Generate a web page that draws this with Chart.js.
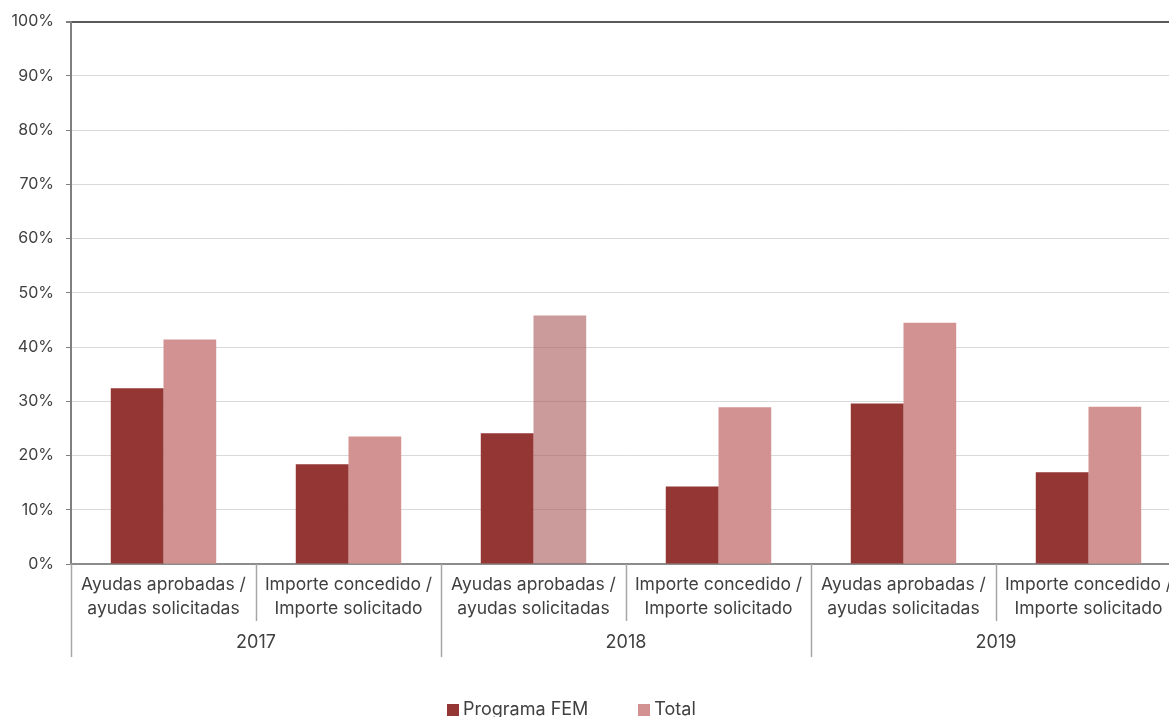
<!DOCTYPE html>
<html>
<head>
<meta charset="utf-8">
<script src="https://cdn.jsdelivr.net/npm/chart.js@4.4.1/dist/chart.umd.min.js"></script>
<style>
  html, body { margin: 0; padding: 0; background: #fff; overflow: hidden; }
  #wrap { position: relative; width: 1169px; height: 717px; overflow: hidden; }
  #chartBox { position: absolute; left: 0; top: 0; width: 1190px; height: 717px; }
  #legend { position: absolute; left: 447px; top: 698px; font-family: Inter, sans-serif; font-size: 18px; color: #404040; white-space: nowrap; }
  #legend span.item { display: inline-block; margin-right: 50px; }
  #legend span.box { display: inline-block; width: 12px; height: 12px; margin-right: 4px; vertical-align: -1px; }
</style>
</head>
<body>
<div id="wrap">
  <div id="chartBox"><canvas id="fondosChart" width="1190" height="717"></canvas></div>
  <div id="legend"></div>
</div>
<script>
// Datos
const years = ['2017', '2018', '2019'];
const metrics = [
    ['Ayudas aprobadas /', 'ayudas solicitadas'],
    ['Importe concedido /', 'Importe solicitado']
];
const categories = [metrics[0], metrics[1], metrics[0], metrics[1], metrics[0], metrics[1]];
const programaFem = [32.4, 18.4, 24.1, 14.3, 29.6, 16.9];
const total = [41.4, 23.5, 45.8, 28.9, 44.5, 29.0];
const yTicks = [0, 10, 20, 30, 40, 50, 60, 70, 80, 90, 100];

const colorFem = '#943634';
const colorTotal = '#d39292';
// la barra de 2018 "Ayudas" aparece algo translúcida en el original
const totalColors = total.map((v, i) => i === 2 ? 'rgba(168, 88, 88, 0.6)' : colorTotal);

const textColor = '#404040';
const fontFamily = 'Inter, sans-serif';

// separadores de categorías y años bajo el eje
const separators = {
    id: 'separators',
    afterDraw(chart) {
        const x = chart.scales.x;
        const ctx = chart.ctx;
        const step = x.width / categories.length;
        const y0 = chart.chartArea.bottom;
        ctx.save();
        ctx.strokeStyle = '#a6a6a6';
        ctx.lineWidth = 1.5;
        for (let i = 0; i <= categories.length; i++) {
            const px = Math.round(x.getPixelForValue(0) - step / 2 + i * step) + 0.5;
            const len = (i % 2 === 0) ? 93 : 57;
            ctx.beginPath();
            ctx.moveTo(px, y0);
            ctx.lineTo(px, y0 + len);
            ctx.stroke();
        }
        ctx.restore();
    }
};

const htmlLegend = {
    id: 'htmlLegend',
    afterUpdate(chart) {
        const el = document.getElementById('legend');
        el.innerHTML = '';
        chart.data.datasets.forEach(ds => {
            const item = document.createElement('span');
            item.className = 'item';
            const box = document.createElement('span');
            box.className = 'box';
            box.style.background = ds.legendColor;
            item.appendChild(box);
            item.appendChild(document.createTextNode(ds.label));
            el.appendChild(item);
        });
    }
};

const ctx = document.getElementById('fondosChart').getContext('2d');
const fondosChart = new Chart(ctx, {
    type: 'bar',
    data: {
        labels: categories,
        datasets: [{
            label: 'Programa FEM',
            data: programaFem,
            backgroundColor: colorFem,
            legendColor: colorFem,
            categoryPercentage: 0.57,
            barPercentage: 1.0
        }, {
            label: 'Total',
            data: total,
            backgroundColor: totalColors,
            legendColor: colorTotal,
            categoryPercentage: 0.57,
            barPercentage: 1.0
        }]
    },
    plugins: [separators, htmlLegend],
    options: {
        responsive: false,
        animation: false,
        layout: { padding: { top: 13, right: 9, bottom: 56, left: 0 } },
        plugins: {
            legend: { display: false },
            tooltip: { enabled: false }
        },
        scales: {
            y: {
                min: 0,
                max: 100,
                afterFit: scale => { scale.width = 71; },
                afterBuildTicks: scale => { scale.ticks = yTicks.map(v => ({ value: v })); },
                ticks: {
                    color: textColor,
                    font: { family: fontFamily, size: 16 },
                    padding: 12,
                    callback: v => v + '%'
                },
                grid: {
                    color: c => c.tick && c.tick.value === 100 ? '#595959' : '#d9d9d9',
                    lineWidth: c => c.tick && c.tick.value === 100 ? 2 : 1,
                    tickColor: '#7f7f7f',
                    tickLength: 5
                },
                border: { color: '#7f7f7f', width: 2 }
            },
            x: {
                position: 'bottom',
                afterFit: scale => { scale.height = 57; },
                ticks: {
                    color: textColor,
                    font: { family: fontFamily, size: 17.5, lineHeight: 1.37 },
                    padding: 9,
                    maxRotation: 0,
                    autoSkip: false
                },
                grid: { display: false, drawTicks: false },
                border: { color: '#8c8c8c', width: 2 }
            },
            x2: {
                type: 'category',
                position: 'bottom',
                labels: years,
                offset: true,
                afterFit: scale => { scale.height = 40; },
                ticks: {
                    color: textColor,
                    font: { family: fontFamily, size: 18, lineHeight: 1.33 },
                    padding: 10,
                    maxRotation: 0
                },
                grid: { display: false, drawTicks: false },
                border: { display: false }
            }
        }
    }
});
</script>
</body>
</html>
